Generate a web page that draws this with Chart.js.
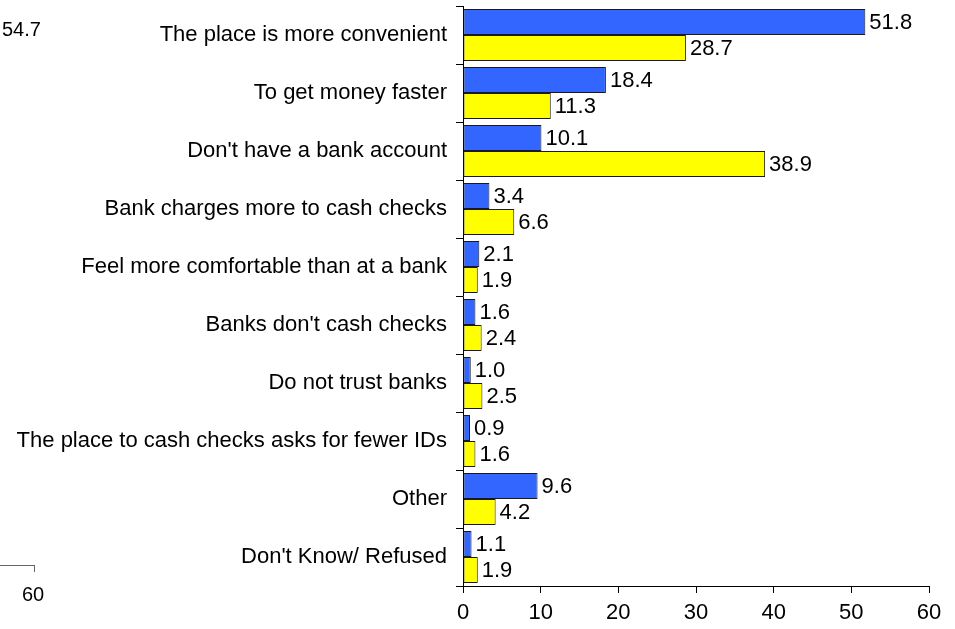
<!DOCTYPE html>
<html>
<head>
<meta charset="utf-8">
<script src="https://cdn.jsdelivr.net/npm/chart.js@4/dist/chart.umd.min.js"></script>
<style>
  html, body { margin: 0; padding: 0; background: #fff; }
  #wrap { position: relative; width: 955px; height: 629px; }
  .stray { position: absolute; font: 20px "Liberation Sans", Arial, sans-serif; color: #000; line-height: 1; }
  #strayLine { position: absolute; left: 0; top: 565px; width: 35px; height: 7px;
    border-top: 1px solid #666; border-right: 1px solid #666; box-sizing: border-box; }
</style>
</head>
<body>
<div id="wrap">
  <canvas id="chart" width="955" height="629"></canvas>
  <div class="stray" style="left:2px; top:19px;">54.7</div>
  <div id="strayLine"></div>
  <div class="stray" style="left:22px; top:584px;">60</div>
</div>
<script>
const categories = [
  "The place is more convenient",
  "To get money faster",
  "Don't have a bank account",
  "Bank charges more to cash checks",
  "Feel more comfortable than at a bank",
  "Banks don't cash checks",
  "Do not trust banks",
  "The place to cash checks asks for fewer IDs",
  "Other",
  "Don't Know/ Refused"
];
const blueValues = [51.8, 18.4, 10.1, 3.4, 2.1, 1.6, 1.0, 0.9, 9.6, 1.1];
const yellowValues = [28.7, 11.3, 38.9, 6.6, 1.9, 2.4, 2.5, 1.6, 4.2, 1.9];
const xTicks = [0, 10, 20, 30, 40, 50, 60];

const FONT = "'Liberation Sans', Arial, sans-serif";

// value printed just past the end of each bar
const barValues = {
  id: "barValues",
  afterDatasetsDraw(chart) {
    const ctx = chart.ctx;
    ctx.save();
    ctx.font = "22px " + FONT;
    ctx.fillStyle = "#000";
    ctx.textAlign = "left";
    ctx.textBaseline = "middle";
    chart.data.datasets.forEach((ds, i) => {
      chart.getDatasetMeta(i).data.forEach((bar, j) => {
        ctx.fillText(ds.data[j].toFixed(1), bar.x + 4, bar.y + 1);
      });
    });
    ctx.restore();
  }
};

new Chart(document.getElementById("chart"), {
  type: "bar",
  data: {
    labels: categories,
    datasets: [
      {
        data: blueValues,
        backgroundColor: "#3366ff",
        borderColor: "#1a1a1a",
        borderWidth: 1,
        borderSkipped: false,
        categoryPercentage: 0.9,
        barPercentage: 1.0
      },
      {
        data: yellowValues,
        backgroundColor: "#ffff00",
        borderColor: "#1a1a1a",
        borderWidth: 1,
        borderSkipped: false,
        categoryPercentage: 0.9,
        barPercentage: 1.0
      }
    ]
  },
  options: {
    indexAxis: "y",
    responsive: false,
    animation: false,
    layout: { padding: { top: 6, right: 26, bottom: 0, left: 0 } },
    plugins: {
      legend: { display: false },
      tooltip: { enabled: false }
    },
    scales: {
      x: {
        min: 0,
        max: 60,
        afterBuildTicks: (axis) => {
          axis.ticks = xTicks.map((v) => ({ value: v }));
        },
        afterFit: (axis) => {
          axis.height = 43;
          axis.paddingLeft = 0;
          axis.paddingRight = 0;
        },
        grid: { drawOnChartArea: false, drawTicks: true, tickLength: 7, color: "#000" },
        border: { color: "#000", width: 1 },
        ticks: { color: "#000", padding: 7, maxRotation: 0, font: { family: FONT, size: 22 } }
      },
      y: {
        afterFit: (axis) => {
          axis.width = 463;
          axis.paddingTop = 0;
          axis.paddingBottom = 0;
        },
        grid: { drawOnChartArea: false, drawTicks: true, tickLength: 7, color: "#000", offset: true },
        border: { color: "#000", width: 1 },
        ticks: { color: "#000", padding: 9, autoSkip: false, font: { family: FONT, size: 22 } }
      }
    }
  },
  plugins: [barValues]
});
</script>
</body>
</html>
